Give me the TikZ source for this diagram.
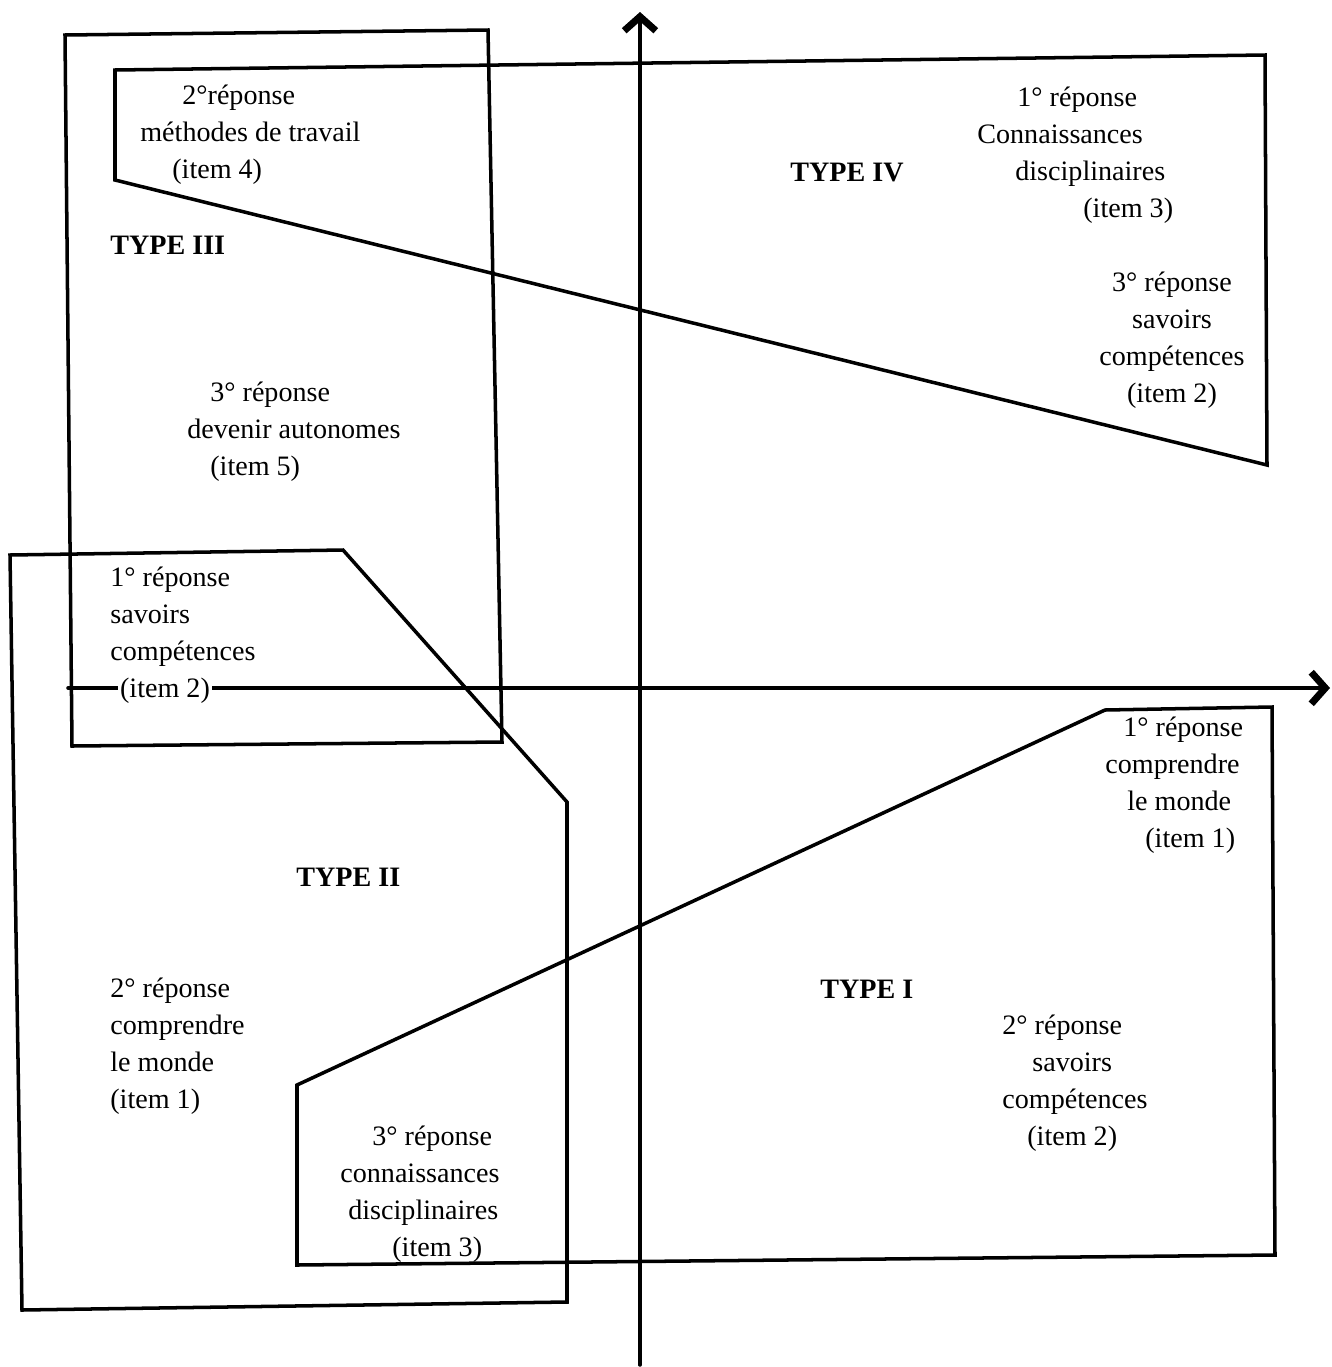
\documentclass[tikz,border=0pt]{standalone}
\usepackage{fontspec}
\setmainfont{Liberation Serif}
\usetikzlibrary{arrows.meta}

\tikzset{
  zone/.style={line width=2pt, line join=miter},
  axe/.style={line width=2pt, -{Straight Barb[length=8pt, width=18pt, line width=4pt]}},
  rep/.style={anchor=west, align=left, inner sep=0pt, font=\fontsize{16}{21}\selectfont},
  typ/.style={anchor=west, inner sep=0pt, font=\fontsize{16}{21}\selectfont\bfseries},
}

\begin{document}
\begin{tikzpicture}[x=0.02cm, y=-0.02cm, line cap=round]
			\useasboundingbox (0,0) rectangle (1332,1367);
			\path
			(640,1365) coordinate (yb)
			(640,12) coordinate (yh)
			(68,688) coordinate (xg)
			(1330,688) coordinate (xd)
			;
			% type III
			\draw[zone] (65,35) -- (488,30) -- (502,742) -- (72,746) -- cycle;
			% type IV
			\draw[zone] (115,70) -- (1265,55) -- (1267,465) -- (115,180) -- cycle;
			% type II
			\draw[zone] (10,555) -- (343,550) -- (567,802) -- (567,1302) -- (22,1310) -- cycle;
			% type I
			\draw[zone] (297,1085) -- (1105,710) -- (1272,707) -- (1275,1255) -- (297,1265) -- cycle;
			% axes
			\draw[axe] (yb) -- (yh);
			\draw[axe] (xg) -- (xd);
			% textes
			\node[rep] (rep4) at (140,135) {\hspace*{0.84cm}2°réponse\\méthodes de travail\\\hspace*{0.64cm}(item 4)};
			\node[typ] (type3) at (110,245) {TYPE III};
			\node[rep] (rep5) at (187,432) {\hspace*{0.46cm}3° réponse\\devenir autonomes\\\hspace*{0.46cm}(item 5)};
			\node[rep] (rep2a) at (110,617) {1° réponse\\savoirs\\compétences};
			\node[rep, fill=white, inner sep=1pt] (item2a) at (118,691) {(item 2)};
			\node[typ] (type4) at (790,173) {TYPE IV};
			\node[rep] (rep3a) at (977,155) {\hspace*{0.8cm}1° réponse\\Connaissances\\\hspace*{0.76cm}disciplinaires\\\hspace*{2.12cm}(item 3)};
			\node[rep, align=center, anchor=center] (rep2b) at (1172,340) {3° réponse\\savoirs\\compétences\\(item 2)};
			\node[rep] (rep1a) at (1105,785) {\hspace*{0.36cm}1° réponse\\comprendre\\\hspace*{0.44cm}le monde\\\hspace*{0.8cm}(item 1)};
			\node[typ] (type2) at (296,877) {TYPE II};
			\node[rep] (rep1b) at (110,1046) {2° réponse\\comprendre\\le monde\\(item 1)};
			\node[typ] (type1) at (820,989) {TYPE I};
			\node[rep] (rep2c) at (1002,1083) {2° réponse\\\hspace*{0.6cm}savoirs\\compétences\\\hspace*{0.5cm}(item 2)};
			\node[rep] (rep3b) at (340,1194) {\hspace*{0.64cm}3° réponse\\connaissances\\\hspace*{0.16cm}disciplinaires\\\hspace*{1.04cm}(item 3)};
		\end{tikzpicture}
\end{document}
